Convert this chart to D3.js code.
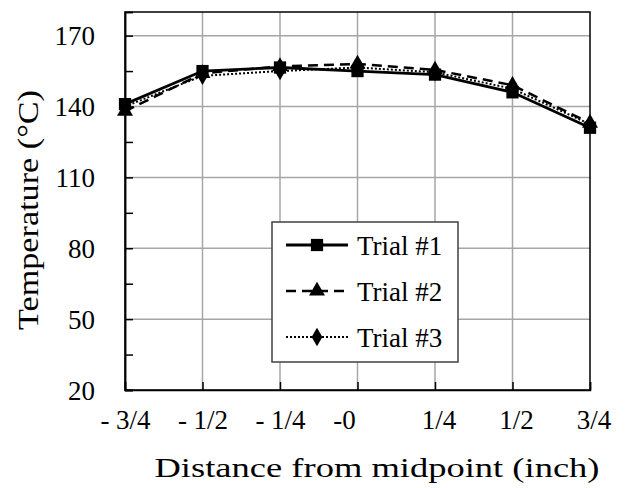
<!DOCTYPE html>
<html>
<head>
<meta charset="utf-8">
<script src="https://cdn.jsdelivr.net/npm/d3@7"></script>
<style>
  body { margin:0; background:#fff; }
  text { font-family:"Liberation Serif", "DejaVu Serif", serif; fill:#000; }
</style>
</head>
<body>
<svg id="chart"></svg>
<script>
// data
var positions = ["- 3/4", "- 1/2", "- 1/4", "-0\u00a0\u00a0\u00a0\u00a0", "\u00a01/4", "\u00a01/2", "\u00a03/4"];
var trial1 = [141, 155, 156.5, 155, 153.5, 146, 131];
var trial2 = [138, 154, 157, 158, 155.5, 149, 133];
var trial3 = [140, 153, 155, 156.5, 154.5, 147.5, 132.5];
var seriesNames = ["Trial #1", "Trial #2", "Trial #3"];
var yTicks = [20, 50, 80, 110, 140, 170];
var yMinor = [35, 65, 95, 125, 155];

var width = 629, height = 488;
var margin = {top: 12, right: 39, bottom: 98, left: 125};
var w = width - margin.left - margin.right,
    h = height - margin.top - margin.bottom;

var svg = d3.select("#chart").attr("width", width).attr("height", height);
var g = svg.append("g").attr("transform", "translate(" + margin.left + "," + margin.top + ")");

var x = d3.scalePoint().domain(d3.range(positions.length)).range([0, w]);
var y = d3.scaleLinear().domain([20, 180]).range([h, 0]);

// grid
g.selectAll(".hgrid").data(yTicks.slice(1)).enter().append("line")
  .attr("x1", 0).attr("x2", w)
  .attr("y1", function(d){ return y(d); }).attr("y2", function(d){ return y(d); })
  .attr("stroke", "#a6a6a6").attr("stroke-width", 1.5);
g.selectAll(".vgrid").data(d3.range(1, positions.length - 1)).enter().append("line")
  .attr("x1", function(d){ return x(d); }).attr("x2", function(d){ return x(d); })
  .attr("y1", 0).attr("y2", h)
  .attr("stroke", "#a6a6a6").attr("stroke-width", 1.5);

// frame
g.append("rect").attr("width", w).attr("height", h)
  .attr("fill", "none").attr("stroke", "#000").attr("stroke-width", 1.5);

// axes
var yAxis = d3.axisLeft(y).tickValues(yTicks).tickSize(-8).tickPadding(30).tickFormat(d3.format("d"));
var ya = g.append("g").call(yAxis);
ya.selectAll("text").attr("font-size", 27).attr("dy", "0.34em");
g.append("g").call(d3.axisLeft(y).tickValues(yMinor).tickSize(-8).tickFormat(""));

var xAxis = d3.axisBottom(x).tickSize(-8).tickPadding(20).tickFormat(function(i){ return positions[i]; });
var xa = g.append("g").attr("transform", "translate(0," + h + ")").call(xAxis);
xa.selectAll("text").attr("font-size", 27).style("white-space", "pre");

svg.selectAll(".domain").attr("stroke", "#000").attr("stroke-width", 1.5);
svg.selectAll(".tick line").attr("stroke", "#000").attr("stroke-width", 1.5);

// titles
svg.append("text")
  .attr("transform", "translate(38,210) rotate(-90)")
  .attr("text-anchor", "middle").attr("font-size", 30)
  .attr("textLength", 240).attr("lengthAdjust", "spacingAndGlyphs")
  .text("Temperature (°C)");
svg.append("text")
  .attr("x", 377).attr("y", 477)
  .attr("text-anchor", "middle").attr("font-size", 27)
  .attr("textLength", 445).attr("lengthAdjust", "spacingAndGlyphs")
  .text("Distance from midpoint (inch)");

// series
var styles = [
  {data: trial1, dash: null, width: 2.8, marker: d3.symbolSquare, size: 150},
  {data: trial2, dash: "10,6", width: 2.5, marker: d3.symbolTriangle, size: 110},
  {data: trial3, dash: "2,2", width: 2, marker: d3.symbolDiamond, size: 100}
];
var line = d3.line().x(function(d, i){ return x(i); }).y(function(d){ return y(d); });

styles.forEach(function(s) {
  g.append("path").datum(s.data).attr("d", line)
    .attr("fill", "none").attr("stroke", "#000")
    .attr("stroke-width", s.width).attr("stroke-dasharray", s.dash);
});
styles.forEach(function(s) {
  g.selectAll(null).data(s.data).enter().append("path")
    .attr("d", d3.symbol().type(s.marker).size(s.size))
    .attr("transform", function(d, i){ return "translate(" + x(i) + "," + y(d) + ")"; })
    .attr("fill", "#000");
});

// legend
var lg = svg.append("g").attr("transform", "translate(272,222)");
lg.append("rect").attr("width", 186).attr("height", 140)
  .attr("fill", "#fff").attr("stroke", "#404040").attr("stroke-width", 1.5);
styles.forEach(function(s, i) {
  var ry = 23 + i * 46;
  lg.append("line").attr("x1", 14).attr("x2", 76).attr("y1", ry).attr("y2", ry)
    .attr("stroke", "#000").attr("stroke-width", s.width).attr("stroke-dasharray", s.dash);
  lg.append("path").attr("d", d3.symbol().type(s.marker).size(s.size))
    .attr("transform", "translate(45," + ry + ")").attr("fill", "#000");
  lg.append("text").attr("x", 85).attr("y", ry + 10).attr("font-size", 27).text(seriesNames[i]);
});
</script>
</body>
</html>
